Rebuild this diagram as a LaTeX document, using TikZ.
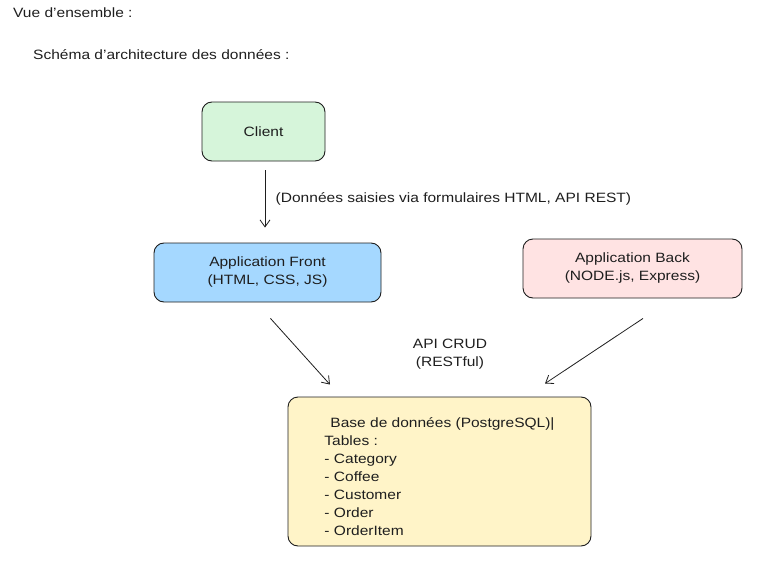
\documentclass[tikz,border=0pt]{standalone}
\usepackage{fontspec}
\setmainfont[FakeStretch=1.15]{Liberation Sans}
\usepackage{xcolor}
\usepackage{tikz}
\usetikzlibrary{arrows.meta,positioning,calc}

\definecolor{inkgray}{HTML}{1E1E1E}
\definecolor{clientgreen}{HTML}{D6F5DA}
\definecolor{frontblue}{HTML}{A5D8FF}
\definecolor{backpink}{HTML}{FFE3E3}
\definecolor{dbyellow}{HTML}{FFF4C8}

\begin{document}
\begin{tikzpicture}[
  x=1pt, y=-1pt,
  every node/.style={font=\fontsize{13.5}{18}\selectfont, text=inkgray},
  box/.style={draw=inkgray, line width=0.9pt, rounded corners=10pt, align=center, inner sep=0pt},
  arr/.style={-{Straight Barb[length=7pt,width=10pt]}, draw=inkgray, line width=0.8pt},
  heading/.style={anchor=west, inner sep=0pt}
]
\useasboundingbox (0,0) rectangle (774,586);

% Titles
\node[heading] (vue) at (13,13) {Vue d'ensemble :};
\node[heading] (schema) at (33,55) {Schéma d'architecture des données :};

% Boxes
\node[box, fill=clientgreen, minimum width=123pt, minimum height=59pt] (client) at (263.5,131.5) {Client};
\node[box, fill=frontblue, minimum width=227pt, minimum height=59pt] (front) at (267.5,272.5) {Application Front\\(HTML, CSS, JS)};
\node[box, fill=backpink, minimum width=219pt, minimum height=59pt] (back) at (632.5,268.5) {Application Back\\(NODE.js, Express)};
\node[box, fill=dbyellow, minimum width=303pt, minimum height=149pt, align=left] (db) at (439.5,471.5)
  {\rule{0pt}{20pt}\hspace*{6pt}Base de données (PostgreSQL)|\\Tables :\\- Category\\- Coffee\\- Customer\\- Order\\- OrderItem};

% Arrows
\draw[arr] ([xshift=1.5pt,yshift=-9pt]client.south) -- ([xshift=-2.5pt,yshift=15pt]front.north)
  node[midway, right=7pt] (saisie) {(Données saisies via formulaires HTML, API REST)};
\draw[arr] ([xshift=3pt,yshift=-16pt]front.south) -- ([xshift=-109.5pt,yshift=12pt]db.north);
\draw[arr] ([xshift=10.5pt,yshift=-20pt]back.south) -- ([xshift=105.5pt,yshift=13pt]db.north);
\node[align=center] (crud) at (450,354) {API CRUD\\(RESTful)};

\end{tikzpicture}
\end{document}
